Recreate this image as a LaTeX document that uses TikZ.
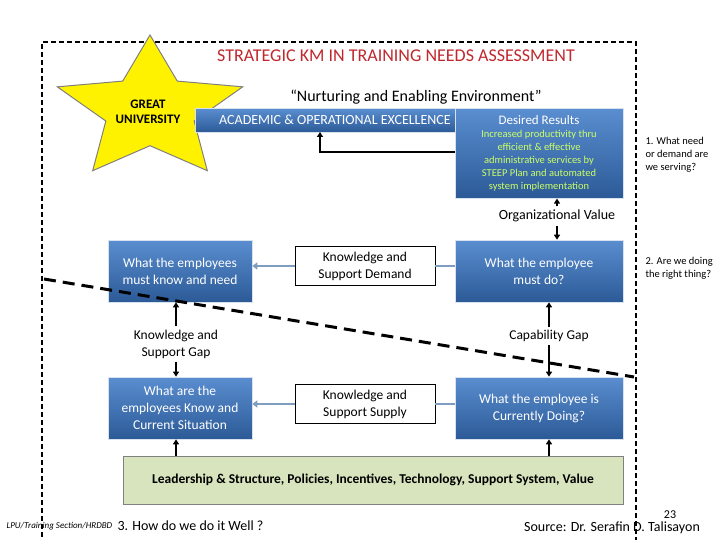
\documentclass[tikz,border=0pt]{standalone}
\usepackage{fontspec}
\setmainfont{Carlito}
\usetikzlibrary{shapes.geometric,arrows.meta}
\definecolor{bluebox}{HTML}{3C6FB0}
\definecolor{bluetop}{HTML}{5A8ED0}
\definecolor{bluebot}{HTML}{2C5A97}
\definecolor{linkc}{HTML}{7F9DBF}
\definecolor{greenbox}{HTML}{D7E4BD}
\definecolor{titlered}{HTML}{C0282E}
\definecolor{yg}{HTML}{CCFF66}
\tikzset{
 bbox/.style={draw=white!80!bluebox,line width=0.6pt,top color=bluetop,bottom color=bluebot,text=white,align=center,font=\fontsize{13.5}{17}\selectfont},
 wbox/.style={draw=black,fill=white,align=center,font=\fontsize{13.5}{17}\selectfont},
 lbl/.style={align=center,font=\fontsize{13.5}{17}\selectfont},
 link/.style={draw=linkc,line width=2pt,-{Triangle[length=5pt,width=7pt]}},
 linkn/.style={draw=linkc,line width=2pt},
 blk/.style={draw=black,line width=1.4pt,-{Triangle[length=5pt,width=6pt]}},
 frame/.style={draw=black,line width=1.3pt,dash pattern=on 5pt off 3pt},
 note/.style={align=left,font=\fontsize{10.5}{13}\selectfont}
}
\begin{document}
\begin{tikzpicture}[x=1pt,y=-1pt]
\useasboundingbox (0,0) rectangle (720,540);
\draw[frame] (42,545) -- (42,42) -- (636,42) -- (636,545);
\node[text=titlered,font=\fontsize{18}{20}\selectfont] (title) at (396,56) {STRATEGIC KM IN TRAINING NEEDS ASSESSMENT};
\node[star,star points=5,star point ratio=2.1,minimum size=150pt,fill=yellow,draw=gray,line width=1pt,xscale=1.3] (star) at (150,110) {};
\node[font=\fontsize{13}{15}\selectfont\bfseries,align=center] (great) at (148,112) {GREAT\\UNIVERSITY};
\node[bbox,minimum width=295pt,minimum height=24pt,anchor=north west,inner sep=0pt] (bar) at (195,108) {};
\node[text=white,font=\fontsize{14}{16}\selectfont] (acad) at (335,120) {ACADEMIC \& OPERATIONAL EXCELLENCE};
\node[font=\fontsize{16}{18}\selectfont] (nurt) at (416,97) {“Nurturing and Enabling Environment”};
\node[bbox,minimum width=168pt,minimum height=90pt,anchor=north west,inner sep=0pt] (des) at (455,108) {};
\node[text=white,font=\fontsize{13}{15}\selectfont] (desT) at (539,120) {Desired Results};
\node[text=yg,align=center,font=\fontsize{10.5}{13}\selectfont] (desS) at (539,161) {Increased productivity thru\\efficient \& effective\\administrative services by\\STEEP Plan and automated\\system implementation};
\coordinate (dl) at (455,152);
\coordinate (bend) at (320,152);
\coordinate (barb) at (320,132);
\draw[blk] (dl) -- (bend) -- (barb);
\node[note,anchor=west] (n1) at (642,155) {1. What need\\or demand are\\we serving?};
\node[font=\fontsize{14}{16}\selectfont] (org) at (557,216) {Organizational Value};
\draw[blk] (org.north) -- (des.south -| org.north);
\node[bbox,minimum width=144pt,minimum height=62pt] (b1) at (180,271) {What the employees\\must know and need};
\node[wbox,minimum width=140pt,minimum height=39pt] (m1) at (365,266) {Knowledge and\\Support Demand};
\node[bbox,minimum width=168pt,minimum height=62pt] (r1) at (539,271) {What the employee\\must do?};
\node[note,anchor=west] (n2) at (642,268) {2. Are we doing\\the right thing?};
\draw[blk] (org.south) -- (r1.north -| org.south);
\draw[linkn] (r1.west |- m1) -- (m1.east);
\draw[link] (m1.west) -- (b1.east |- m1);
\node[bbox,minimum width=144pt,minimum height=62pt] (b2) at (180,408) {What are the\\employees Know and\\Current Situation};
\node[wbox,minimum width=140pt,minimum height=39pt] (m2) at (365,404) {Knowledge and\\Support Supply};
\node[bbox,minimum width=168pt,minimum height=62pt] (r2) at (539,408) {What the employee is\\Currently Doing?};
\draw[linkn] (r2.west |- m2) -- (m2.east);
\draw[link] (m2.west) -- (b2.east |- m2);
\node[lbl] (kg) at (176,344) {Knowledge and\\Support Gap};
\draw[blk] (kg.north) -- (b1.south -| kg.north);
\draw[blk] (kg.south) -- (b2.north -| kg.south);
\node[lbl] (cg) at (549,336) {Capability Gap};
\draw[blk] (cg.north) -- (r1.south -| cg.north);
\draw[blk] (cg.south) -- (r2.north -| cg.south);
\coordinate (d1) at (44,279);
\coordinate (d2) at (634,377);
\draw[line width=3pt,dash pattern=on 12pt off 7pt] (d1) -- (d2);
\node[draw=gray,fill=greenbox,minimum width=500pt,minimum height=48pt,font=\fontsize{13.5}{16}\selectfont\bfseries] (lead) at (373,480) {Leadership \& Structure, Policies, Incentives, Technology, Support System, Value};
\draw[blk] (lead.north -| kg) -- (b2.south -| kg);
\draw[blk] (lead.north -| cg) -- (r2.south -| cg);
\node[anchor=west,font=\fontsize{9}{10}\itshape] (lpu) at (3,526) {LPU/Training Section/HRDBD};
\node[anchor=west,font=\fontsize{14}{16}\selectfont] (q3) at (114,526) {3. How do we do it Well ?};
\node[font=\fontsize{12}{14}\selectfont] (pg) at (670,515) {23};
\node[font=\fontsize{14}{16}\selectfont] (src) at (612,528) {Source: Dr. Serafin D. Talisayon};
\end{tikzpicture}
\end{document}
